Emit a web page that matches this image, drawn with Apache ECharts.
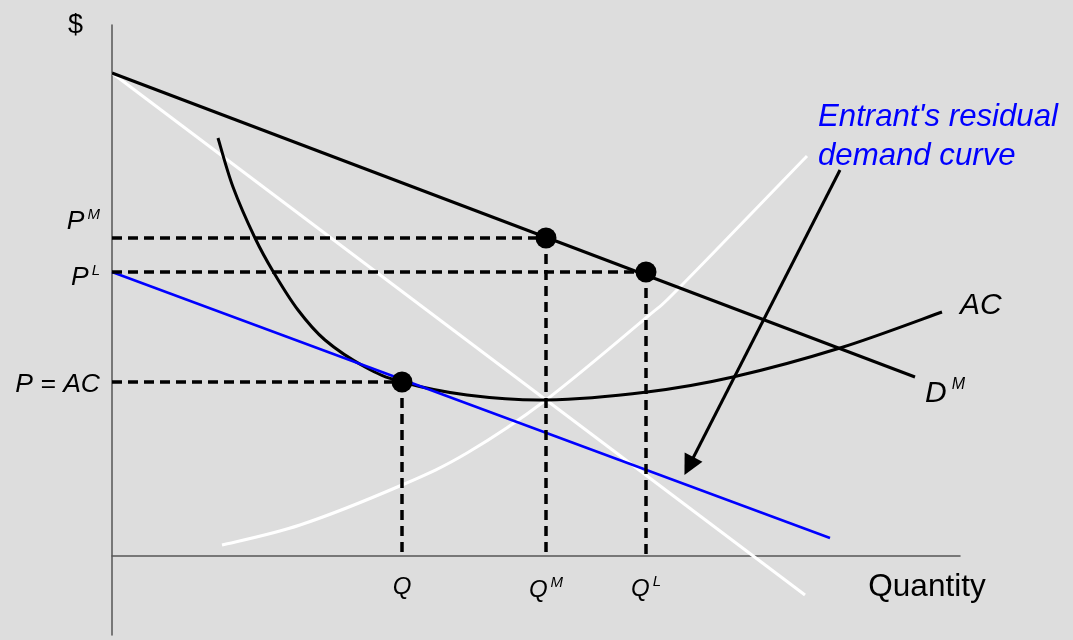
<!DOCTYPE html>
<html>
<head>
<meta charset="utf-8">
<title>Entry deterrence: limit pricing</title>
<script src="https://cdn.jsdelivr.net/npm/echarts@6/dist/echarts.min.js"></script>
<style>
  html, body { margin: 0; padding: 0; background: #dddddd; }
  #chart { width: 1073px; height: 640px; }
</style>
</head>
<body>
<div id="chart"></div>
<script>
// Market demand D^M (straight line)
const demandM = [[0, 48.3], [80.3, 17.9]];
// Steeper downward line through the AC minimum
const steepLine = [[0, 48.3], [69.3, -3.9]];
// Entrant's residual demand curve
const residualDemand = [[0, 28.4], [71.8, 1.8]];
// Average cost curve
const avgCost = [
  [10.6, 41.8], [12.1, 36.9], [14.3, 31.8], [16.2, 28.3], [18.6, 24.6],
  [21.3, 21.6], [25.3, 18.9], [29.0, 17.4], [35.5, 16.1],
  [43.4, 15.6], [53.5, 16.4], [62.1, 17.9], [72.8, 20.8], [83.0, 24.4]
];
// Rising curve through the AC minimum
const risingCurve = [
  [11.0, 1.1], [18.8, 3.1], [29.0, 7.1], [35.5, 10.3], [43.4, 15.6],
  [53.5, 23.9], [56.8, 26.9], [69.5, 40.0]
];
// Key points: (Q, P=AC), (Q^M, P^M), (Q^L, P^L)
const keyPoints = [[29.0, 17.4], [43.4, 31.8], [53.4, 28.4]];
const priceLabels = ['{i|P = AC}', '{i|P}{s|M}', '{i|P}{s|L}'];
const quantityLabels = ['{i|Q}', '{i|Q}{s|M}', '{i|Q}{s|L}'];
// Pointer from the note to the residual demand curve
const arrowPath = [[72.8, 38.6], [57.7, 9.0]];
const noteText = "Entrant's residual\ndemand curve";
const xAxisTitle = 'Quantity';
const yAxisTitle = '$';

const FONT = "'Liberation Sans', Arial, sans-serif";
const richStyles = {
  i: { fontFamily: FONT, fontStyle: 'italic', fontSize: 26.5, color: '#000', lineHeight: 30 },
  s: { fontFamily: FONT, fontStyle: 'italic', fontSize: 15, color: '#000', verticalAlign: 'top', lineHeight: 30, padding: [0, 0, 0, 3] }
};

// Smooth curve through the given points (Catmull-Rom segments as cubic Beziers),
// positioned with the cartesian scales via api.coord.
function splineSeries(points, color, width, z, endLabel) {
  return {
    type: 'custom', data: points, z: z, silent: true,
    encode: { x: 0, y: 1 },
    renderItem: function (params, api) {
      if (params.dataIndex !== 0) return null;
      const p = points.map(function (d) { return api.coord(d); });
      const n = p.length;
      let d = 'M' + p[0][0] + ' ' + p[0][1];
      for (let i = 0; i < n - 1; i++) {
        const p0 = p[Math.max(i - 1, 0)], p1 = p[i], p2 = p[i + 1], p3 = p[Math.min(i + 2, n - 1)];
        const c1 = [p1[0] + (p2[0] - p0[0]) / 6, p1[1] + (p2[1] - p0[1]) / 6];
        const c2 = [p2[0] - (p3[0] - p1[0]) / 6, p2[1] - (p3[1] - p1[1]) / 6];
        d += ' C' + c1[0] + ' ' + c1[1] + ' ' + c2[0] + ' ' + c2[1] + ' ' + p2[0] + ' ' + p2[1];
      }
      const children = [{
        type: 'path', shape: { pathData: d },
        style: { fill: null, stroke: color, lineWidth: width, lineJoin: 'round', lineCap: 'butt' }
      }];
      if (endLabel) {
        const last = p[n - 1];
        children.push({
          type: 'text', x: last[0] + endLabel.dx, y: last[1] + endLabel.dy,
          style: Object.assign({ text: endLabel.text, textAlign: 'left', textVerticalAlign: 'middle' }, endLabel.style)
        });
      }
      return { type: 'group', children: children };
    }
  };
}

// Dashed guides from each key point to both axes
const guideSeries = [];
keyPoints.forEach(function (p) {
  [[[0, p[1]], p], [p, [p[0], 0]]].forEach(function (seg) {
    guideSeries.push({
      type: 'line', data: seg, symbol: 'none', silent: true, z: 4,
      lineStyle: { color: '#000', width: 3.5, type: [10, 6] }
    });
  });
});

const priceLabelOffsets = [[0, 3], [0, -16], [0, 6]];
const qLabelOffsets = [[0, 0], [0, 3], [0, 2]];

const option = {
  backgroundColor: '#dddddd',
  animation: false,
  grid: { left: 112, top: 25, width: 848, height: 610, containLabel: false },
  xAxis: {
    type: 'value', min: 0, max: 84.8,
    axisLine: { onZero: true, lineStyle: { color: '#555', width: 1.5 } },
    axisTick: { show: false }, axisLabel: { show: false }, splitLine: { show: false }
  },
  yAxis: {
    type: 'value', min: -7.9, max: 53.1,
    axisLine: { onZero: false, lineStyle: { color: '#555', width: 1.5 } },
    axisTick: { show: false }, axisLabel: { show: false }, splitLine: { show: false },
    name: yAxisTitle, nameLocation: 'end', nameGap: -1,
    nameTextStyle: { fontFamily: FONT, fontSize: 27, color: '#000', align: 'right', verticalAlign: 'middle', padding: [0, 29, 0, 0] }
  },
  series: [
    splineSeries(risingCurve, '#ffffff', 3, 2),
    {
      type: 'line', data: steepLine, symbol: 'none', z: 2,
      lineStyle: { color: '#ffffff', width: 3 }
    },
    {
      type: 'line', data: residualDemand, symbol: 'none', z: 3,
      lineStyle: { color: '#0000ff', width: 2.5 }
    },
    splineSeries(avgCost, '#000', 3, 3, {
      text: 'AC', dx: 18, dy: -6,
      style: { font: 'italic 30px ' + FONT, fill: '#000' }
    }),
    {
      type: 'line', data: demandM, symbol: 'none', z: 3,
      lineStyle: { color: '#000', width: 3 },
      endLabel: {
        show: true, formatter: '{i|D}{s|M}', offset: [2, 17],
        rich: { i: Object.assign({}, richStyles.i, { fontSize: 30, lineHeight: 34 }), s: Object.assign({}, richStyles.s, { fontSize: 16, lineHeight: 34, padding: [0, 0, 0, 5] }) }
      }
    },
    ...guideSeries,
    {
      type: 'scatter', data: keyPoints, symbol: 'circle', symbolSize: 21, z: 6,
      itemStyle: { color: '#000', opacity: 1 }
    },
    {
      type: 'scatter', symbolSize: 0, z: 7, clip: false, silent: true, itemStyle: { opacity: 1 },
      data: keyPoints.map(function (p, i) {
        return {
          value: [0, p[1]],
          label: { show: true, position: 'left', distance: 12, offset: priceLabelOffsets[i], formatter: priceLabels[i], rich: richStyles }
        };
      })
    },
    {
      type: 'scatter', symbolSize: 0, z: 7, clip: false, silent: true, itemStyle: { opacity: 1 },
      data: keyPoints.map(function (p, i) {
        return {
          value: [p[0], 0],
          label: { show: true, position: 'bottom', distance: 16, offset: qLabelOffsets[i], formatter: quantityLabels[i],
            rich: { i: Object.assign({}, richStyles.i, { fontSize: 24 }), s: Object.assign({}, richStyles.s, { fontSize: 15 }) } }
        };
      })
    },
    {
      // axis title placed just below the right end of the quantity axis
      type: 'scatter', symbolSize: 0, z: 7, clip: false, silent: true, itemStyle: { opacity: 1 },
      data: [{
        value: [84.8, 0],
        label: { show: true, position: 'bottom', distance: 15, offset: [-33, 0], formatter: xAxisTitle,
          fontFamily: FONT, fontSize: 31.5, color: '#000' }
      }]
    },
    {
      type: 'lines', coordinateSystem: 'cartesian2d', z: 5, silent: true,
      data: [{ coords: arrowPath }],
      symbol: ['none', 'triangle'], symbolSize: 20,
      lineStyle: { color: '#000', width: 3, opacity: 1 }
    },
    {
      type: 'scatter', symbolSize: 0, z: 7, clip: false, silent: true, itemStyle: { opacity: 1 },
      data: [{
        value: arrowPath[0],
        label: {
          show: true, position: 'right', offset: [-27, -33], formatter: noteText,
          fontFamily: FONT, fontStyle: 'italic', fontSize: 31.2, lineHeight: 39, color: '#0000ff', align: 'left'
        }
      }]
    }
  ]
};

const chart = echarts.init(document.getElementById('chart'), null, { renderer: 'canvas' });
chart.setOption(option);
</script>
</body>
</html>
